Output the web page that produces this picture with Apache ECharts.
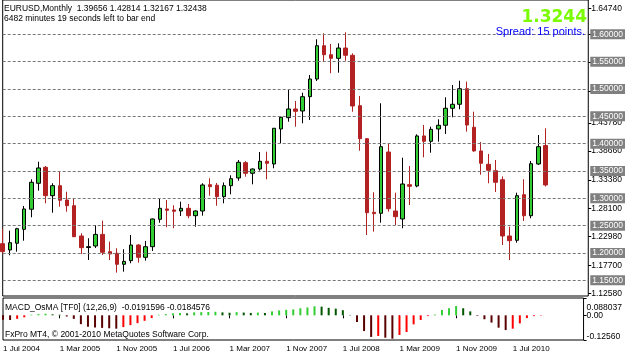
<!DOCTYPE html>
<html>
<head>
<meta charset="utf-8">
<title>EURUSD Monthly</title>
<script src="https://cdn.jsdelivr.net/npm/echarts@6/dist/echarts.min.js"></script>
<style>
    html, body { margin: 0; padding: 0; background: #fff; }
    #chart { width: 625px; height: 357px; }
</style>
</head>
<body>
<div id="chart"></div>
<script>
// 月份（每根K线一个月）
const months = [
    'Jul 2004', 'Aug 2004', 'Sep 2004', 'Oct 2004', 'Nov 2004', 'Dec 2004',
    'Jan 2005', 'Feb 2005', 'Mar 2005', 'Apr 2005', 'May 2005', 'Jun 2005',
    'Jul 2005', 'Aug 2005', 'Sep 2005', 'Oct 2005', 'Nov 2005', 'Dec 2005',
    'Jan 2006', 'Feb 2006', 'Mar 2006', 'Apr 2006', 'May 2006', 'Jun 2006',
    'Jul 2006', 'Aug 2006', 'Sep 2006', 'Oct 2006', 'Nov 2006', 'Dec 2006',
    'Jan 2007', 'Feb 2007', 'Mar 2007', 'Apr 2007', 'May 2007', 'Jun 2007',
    'Jul 2007', 'Aug 2007', 'Sep 2007', 'Oct 2007', 'Nov 2007', 'Dec 2007',
    'Jan 2008', 'Feb 2008', 'Mar 2008', 'Apr 2008', 'May 2008', 'Jun 2008',
    'Jul 2008', 'Aug 2008', 'Sep 2008', 'Oct 2008', 'Nov 2008', 'Dec 2008',
    'Jan 2009', 'Feb 2009', 'Mar 2009', 'Apr 2009', 'May 2009', 'Jun 2009',
    'Jul 2009', 'Aug 2009', 'Sep 2009', 'Oct 2009', 'Nov 2009', 'Dec 2009',
    'Jan 2010', 'Feb 2010', 'Mar 2010', 'Apr 2010', 'May 2010', 'Jun 2010',
    'Jul 2010', 'Aug 2010', 'Sep 2010', 'Oct 2010', 'Nov 2010'
];
// 右侧留白（图表右移）
const futureMonths = ['Dec 2010', 'Jan 2011', 'Feb 2011', 'Mar 2011', 'Apr 2011', 'May 2011'];

const openPrices = [
    1.2170, 1.2055, 1.2178, 1.2433, 1.2800, 1.3275,
    1.3567, 1.3048, 1.3231, 1.2969, 1.2865, 1.2311,
    1.2100, 1.2128, 1.2340, 1.2024, 1.1995, 1.1793,
    1.1860, 1.2146, 1.1921, 1.2115, 1.2616, 1.2805,
    1.2787, 1.2768, 1.2817, 1.2682, 1.2768, 1.3249,
    1.3240, 1.3030, 1.3231, 1.3372, 1.3652, 1.3458,
    1.3536, 1.3677, 1.3628, 1.4268, 1.4475, 1.4634,
    1.4597, 1.4859, 1.5182, 1.5791, 1.5627, 1.5561,
    1.5749, 1.5616, 1.4694, 1.4091, 1.2744, 1.2726,
    1.3847, 1.2768, 1.2622, 1.3249, 1.3226, 1.4141,
    1.4043, 1.4268, 1.4336, 1.4647, 1.4720, 1.5005,
    1.4299, 1.3866, 1.3622, 1.3505, 1.3340, 1.2311,
    1.2232, 1.3066, 1.2682, 1.3628, 1.39656
];
const highPrices = [
    1.2440, 1.2408, 1.2460, 1.2860, 1.3348, 1.3670,
    1.3591, 1.3275, 1.3487, 1.3121, 1.2990, 1.2360,
    1.2269, 1.2512, 1.2591, 1.2207, 1.2086, 1.2068,
    1.2329, 1.2160, 1.2220, 1.2630, 1.2988, 1.2970,
    1.2872, 1.2938, 1.2896, 1.2780, 1.3275, 1.3366,
    1.3280, 1.3290, 1.3421, 1.3701, 1.3680, 1.3545,
    1.3847, 1.3853, 1.4281, 1.4493, 1.4981, 1.4780,
    1.4932, 1.5256, 1.5909, 1.6018, 1.5823, 1.5835,
    1.6037, 1.5652, 1.4872, 1.4100, 1.3110, 1.4738,
    1.4006, 1.3103, 1.3743, 1.3591, 1.4171, 1.4341,
    1.4310, 1.4445, 1.4848, 1.5073, 1.5151, 1.5133,
    1.4584, 1.4030, 1.3811, 1.3701, 1.3400, 1.2481,
    1.3103, 1.3348, 1.3683, 1.4158, 1.42814
];
const lowPrices = [
    1.1990, 1.1958, 1.2024, 1.2225, 1.2653, 1.3140,
    1.2909, 1.2737, 1.2847, 1.2755, 1.2290, 1.1982,
    1.1872, 1.2090, 1.1963, 1.1872, 1.1640, 1.1658,
    1.1812, 1.1823, 1.1860, 1.2037, 1.2554, 1.2470,
    1.2452, 1.2676, 1.2635, 1.2481, 1.2682, 1.3048,
    1.2865, 1.2909, 1.3073, 1.3322, 1.3396, 1.3256,
    1.3505, 1.3348, 1.3549, 1.4006, 1.4401, 1.4310,
    1.4372, 1.4433, 1.5146, 1.5499, 1.5287, 1.5298,
    1.5517, 1.4584, 1.3871, 1.2329, 1.2390, 1.2554,
    1.2756, 1.2512, 1.2452, 1.2878, 1.3202, 1.3750,
    1.3834, 1.4036, 1.4177, 1.4482, 1.4628, 1.4219,
    1.3853, 1.3432, 1.3275, 1.3116, 1.2146, 1.1872,
    1.2188, 1.2585, 1.2635, 1.3610, 1.32167
];
const closePrices = [
    1.2025, 1.2188, 1.2444, 1.2805, 1.3293, 1.3555,
    1.3048, 1.3231, 1.2964, 1.2865, 1.2298, 1.2097,
    1.2115, 1.2340, 1.2013, 1.1982, 1.1793, 1.1846,
    1.2146, 1.1921, 1.2115, 1.2622, 1.2817, 1.2781,
    1.2763, 1.2817, 1.2682, 1.2768, 1.3244, 1.3213,
    1.3030, 1.3231, 1.3359, 1.3659, 1.3458, 1.3536,
    1.3677, 1.3641, 1.4281, 1.4482, 1.4634, 1.4592,
    1.4859, 1.5182, 1.5791, 1.5627, 1.5561, 1.5749,
    1.5616, 1.4689, 1.4091, 1.2737, 1.2719, 1.3944,
    1.2810, 1.2664, 1.3262, 1.3220, 1.4141, 1.4043,
    1.4262, 1.4336, 1.4647, 1.4720, 1.5005, 1.4341,
    1.3866, 1.3641, 1.3513, 1.3293, 1.2311, 1.2225,
    1.3048, 1.2682, 1.3633, 1.3944, 1.32438
];

// MACD OsMA 柱状图
const osmaValues = [
    -0.022, -0.024, -0.018, -0.010, 0.003, 0.006,
    0.008, 0.005, 0.003, -0.006, -0.018, -0.045,
    -0.058, -0.062, -0.064, -0.066, -0.068, -0.060,
    -0.050, -0.040, -0.028, -0.014, 0.003, 0.006,
    0.010, 0.012, 0.010, 0.015, 0.016, 0.017,
    0.018, 0.015, 0.013, 0.016, 0.014, 0.012,
    0.014, 0.012, 0.020, 0.025, 0.028, 0.030,
    0.036, 0.040, 0.046, 0.044, 0.038, 0.034,
    0.026, 0.002, -0.034, -0.080, -0.110, -0.105,
    -0.114, -0.119, -0.100, -0.085, -0.046, -0.024,
    -0.004, 0.004, 0.027, 0.036, 0.047, 0.036,
    0.020, -0.003, -0.020, -0.037, -0.063, -0.075,
    -0.068, -0.041, -0.014, -0.004, -0.002
];

// 右侧价格刻度（MT4 自带）
const priceLabels = [1.6474, 1.5994, 1.5494, 1.4966, 1.4378, 1.3866, 1.3338, 1.2810, 1.2298, 1.1770, 1.1258];
// 水平线价位
const levelLines = [1.60, 1.55, 1.50, 1.45, 1.40, 1.35, 1.30, 1.25, 1.20, 1.15];
const lastPrice = 1.32438;
// 底部日期刻度
const dateTicks = ['Jul 2004', 'Mar 2005', 'Nov 2005', 'Jul 2006', 'Mar 2007', 'Nov 2007', 'Jul 2008', 'Mar 2009', 'Nov 2009', 'Jul 2010'];
// 副图刻度
const osmaMax = 0.088037;
const osmaMin = -0.1256;

const FONT = 'Liberation Sans';

const chart = echarts.init(document.getElementById('chart'));

const axisMonths = months.concat(futureMonths);
const candleData = months.map((m, i) => [openPrices[i], closePrices[i], lowPrices[i], highPrices[i]]);
const isDateTick = (idx, value) => dateTicks.indexOf(value) >= 0;

// 柱子颜色：正值上升/下降，负值下降/回升
function osmaColor(params) {
    const i = params.dataIndex;
    const v = osmaValues[i];
    const prev = i > 0 ? osmaValues[i - 1] : v;
    if (v >= 0) {
        return v > prev ? '#32cd32' : '#005500';
    }
    return v <= prev ? '#5a0000' : '#ff0000';
}

const smallText = { fontFamily: FONT, fontSize: 8.5, fontWeight: 'normal', color: '#000' };

// 副图 y 轴（两个轴叠在一起，避免标签互相隐藏）
function osmaAxis(values, formatter, ticks) {
    return {
        gridIndex: 1, type: 'value', position: 'right',
        min: osmaMin, max: 0.0881,
        axisLine: { show: false },
        axisTick: { show: ticks, customValues: [osmaMax, 0, osmaMin], length: 3, lineStyle: { color: '#000' } },
        axisLabel: {
            customValues: values,
            hideOverlap: false,
            showMinLabel: true, showMaxLabel: true,
            formatter: formatter,
            rich: {
                top: { padding: [20, 0, 0, 0], fontFamily: FONT, fontSize: 8.5, color: '#000' },
                bot: { padding: [0, 0, 7, 0], fontFamily: FONT, fontSize: 8.5, color: '#000' }
            },
            margin: 3,
            fontFamily: FONT, fontSize: 8.5, color: '#000'
        },
        splitLine: { show: false }
    };
}

const option = {
    animation: false,
    backgroundColor: '#fff',
    title: [
        { text: 'EURUSD,Monthly  1.39656 1.42814 1.32167 1.32438', left: 4, top: 4, padding: 0, textStyle: smallText },
        { text: '6482 minutes 19 seconds left to bar end', left: 4, top: 14, padding: 0, textStyle: smallText },
        {
            text: '1.3244', right: 38, top: 9, padding: 0,
            textStyle: { fontFamily: 'DejaVu Sans', fontSize: 17, fontWeight: 'bold', color: '#7cfc00' }
        },
        {
            text: 'Spread: 15 points.', right: 40, top: 26, padding: 0,
            textStyle: { fontFamily: FONT, fontSize: 11, fontWeight: 'normal', color: '#0000ff' }
        },
        { text: 'MACD_OsMA [TF0] (12,26,9)  -0.0191596 -0.0184576', left: 5, top: 303.5, padding: 0, textStyle: smallText },
        { text: 'FxPro MT4, © 2001-2010 MetaQuotes Software Corp.', left: 5, top: 330.5, padding: 0, textStyle: smallText }
    ],
    grid: [
        { left: 2.7, right: 35, top: 0, height: 296, show: true, borderColor: '#000', borderWidth: 1 },
        { left: 2.7, right: 35, top: 298, height: 42, show: true, borderColor: '#000', borderWidth: 1 }
    ],
    xAxis: [
        {
            gridIndex: 0, type: 'category', data: axisMonths, boundaryGap: false,
            axisLine: { show: false }, axisTick: { show: false },
            axisLabel: { show: false }, splitLine: { show: false }
        },
        {
            gridIndex: 1, type: 'category', data: axisMonths, boundaryGap: false,
            axisLine: { show: false },
            axisTick: { show: true, interval: isDateTick, length: 3, lineStyle: { color: '#000' } },
            axisLabel: {
                interval: isDateTick,
                formatter: v => '1 ' + v,
                align: 'left', margin: 5,
                fontFamily: FONT, fontSize: 8, color: '#000'
            },
            splitLine: { show: false }
        }
    ],
    yAxis: [
        {
            gridIndex: 0, type: 'value', position: 'right',
            min: 1.12131, max: 1.66274,
            axisLine: { show: false },
            axisTick: { show: true, customValues: priceLabels, length: 3, lineStyle: { color: '#000' } },
            axisLabel: {
                customValues: priceLabels,
                hideOverlap: false,
                formatter: v => v.toFixed(5),
                margin: 3, padding: [5, 0, 0, 0],
                fontFamily: FONT, fontSize: 8.5, color: '#000'
            },
            splitLine: { show: false }
        },
        osmaAxis([0], () => '0.00', true),
        osmaAxis([osmaMax, osmaMin], v => (v > 0 ? '{top|0.088037}' : '{bot|-0.12560}'), false)
    ],
    series: [
        {
            name: 'EURUSD',
            type: 'candlestick',
            xAxisIndex: 0,
            yAxisIndex: 0,
            data: candleData,
            barWidth: 4,
            itemStyle: {
                color: '#32cd32',
                color0: '#b22222',
                borderColor: '#000',
                borderColor0: '#b22222',
                borderWidth: 1
            },
            markLine: {
                symbol: 'none',
                silent: true,
                animation: false,
                lineStyle: { color: '#777', type: [3, 2], width: 1 },
                label: {
                    position: 'end',
                    distance: 2,
                    formatter: p => p.value.toFixed(5),
                    backgroundColor: '#808080',
                    color: '#fff',
                    padding: [1, 2, 0, 2],
                    fontFamily: FONT,
                    fontSize: 8.5
                },
                data: levelLines.map(v => ({ yAxis: v })).concat([{
                    yAxis: lastPrice,
                    lineStyle: { opacity: 0 },
                    label: { backgroundColor: '#000', color: '#fff' }
                }])
            }
        },
        {
            name: 'OsMA',
            type: 'bar',
            xAxisIndex: 1,
            yAxisIndex: 1,
            data: osmaValues,
            barWidth: 2,
            itemStyle: { color: osmaColor }
        }
    ]
};

chart.setOption(option);
</script>
</body>
</html>
